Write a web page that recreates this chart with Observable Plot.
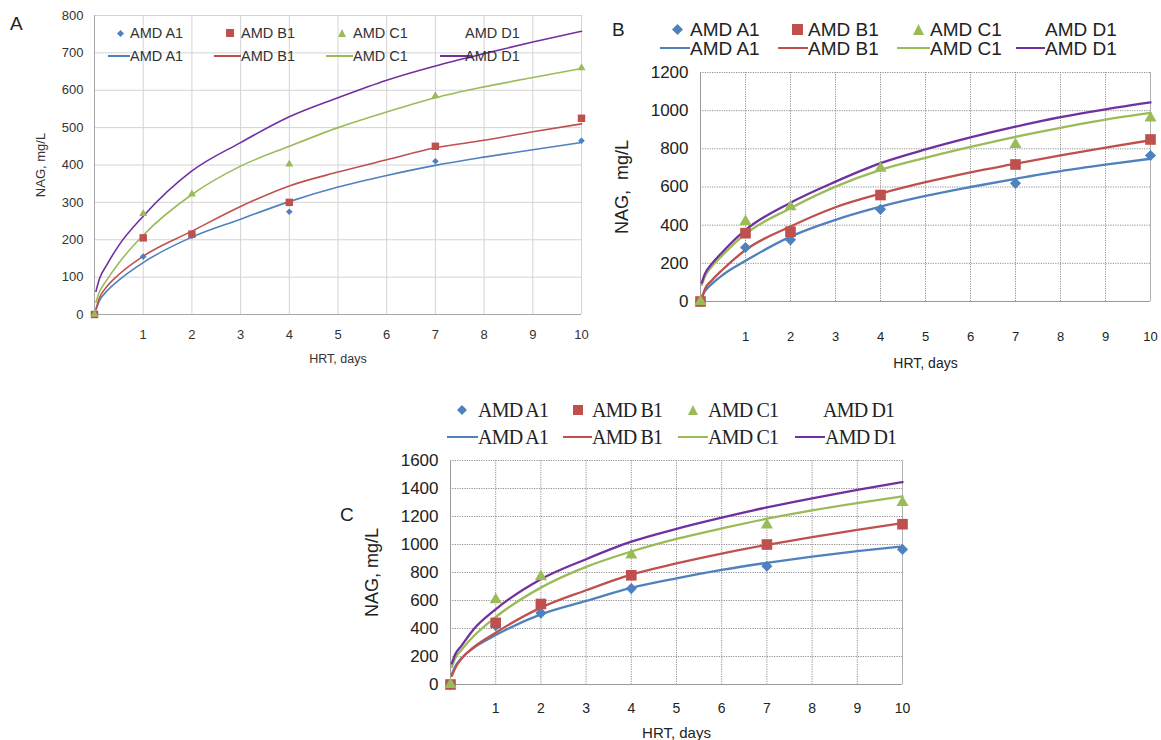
<!DOCTYPE html>
<html><head><meta charset="utf-8">
<script src="https://cdn.jsdelivr.net/npm/d3@7"></script>
<script src="https://cdn.jsdelivr.net/npm/@observablehq/plot@0.6"></script>
<style>
body{margin:0;background:#fff;}
#root{position:relative;width:1161px;height:740px;overflow:hidden;background:#fff;font-family:"Liberation Sans",Arial,sans-serif;}
.abs{position:absolute;white-space:nowrap;line-height:1;}
.panel{position:absolute;}
</style></head><body><div id="root"></div>
<script>
// ---------- data ----------
const seriesNames = ["AMD A1", "AMD B1", "AMD C1", "AMD D1"];
const seriesColors = ["#4F81BD", "#C0504D", "#9BBB59", "#7030A0"];
const hrtObs = [0, 1, 2, 4, 7, 10];
const hrtFit = [0.03, 0.1, 0.25, 0.5, 1, 2, 3, 4, 5, 6, 7, 8, 9, 10];
const xTickValues = [1, 2, 3, 4, 5, 6, 7, 8, 9, 10];

// Panel A
const aYTicks = [0, 100, 200, 300, 400, 500, 600, 700, 800];
const aObsA1 = [0, 155, 210, 275, 410, 465];
const aObsB1 = [0, 205, 215, 300, 450, 525];
const aObsC1 = [0, 270, 322, 402, 585, 660];
const aFitA1 = [12, 36, 62, 92, 139, 207, 255, 302, 341, 372, 399, 421, 441, 460];
const aFitB1 = [15, 44, 74, 107, 156, 223, 289, 344, 381, 414, 446, 466, 489, 510];
const aFitC1 = [33, 60, 92, 138, 212, 321, 397, 450, 500, 542, 580, 609, 634, 658];
const aFitD1 = [62, 95, 132, 185, 263, 384, 460, 529, 580, 627, 665, 698, 729, 758];

// Panel B
const bYTicks = [0, 200, 400, 600, 800, 1000, 1200];
const bObsA1 = [0, 283, 323, 483, 619, 765];
const bObsB1 = [0, 358, 366, 558, 718, 849];
const bObsC1 = [0, 419, 497, 698, 823, 962];
const bFitA1 = [26, 55, 92, 140, 213, 340, 428, 497, 553, 600, 643, 683, 717, 748];
const bFitB1 = [17, 66, 110, 169, 270, 393, 494, 565, 625, 677, 722, 766, 806, 845];
const bFitC1 = [87, 132, 183, 245, 354, 489, 602, 690, 753, 810, 863, 910, 953, 988];
const bFitD1 = [99, 146, 197, 262, 375, 518, 628, 725, 797, 860, 916, 966, 1007, 1043];

// Panel C
const cYTicks = [0, 200, 400, 600, 800, 1000, 1200, 1400, 1600];
const cObsA1 = [0, 420, 510, 685, 845, 965];
const cObsB1 = [0, 440, 575, 780, 1000, 1145];
const cObsC1 = [0, 605, 770, 925, 1140, 1300];
const cFitA1 = [74, 125, 190, 259, 353, 501, 597, 690, 758, 818, 869, 914, 953, 987];
const cFitB1 = [62, 115, 187, 263, 370, 549, 673, 785, 865, 935, 997, 1053, 1105, 1153];
const cFitC1 = [125, 183, 250, 341, 482, 692, 840, 950, 1040, 1115, 1184, 1244, 1296, 1343];
const cFitD1 = [150, 212, 280, 390, 537, 752, 895, 1020, 1112, 1192, 1265, 1330, 1390, 1446];

// ---------- helpers ----------
const rows = (xs, ys) => xs.map((x, i) => ({x, y: ys[i]}));
const root = document.getElementById("root");

function makePanel(cfg) {
  const obs = [cfg.obsA1, cfg.obsB1, cfg.obsC1];
  const fits = [cfg.fitA1, cfg.fitB1, cfg.fitC1, cfg.fitD1];
  const syms = ["diamond2", "square", "triangle"];
  const grid = {stroke: cfg.gridColor, strokeOpacity: 1, strokeWidth: 1, strokeDasharray: cfg.gridDash};
  const marks = [
    Plot.gridX(xTickValues, grid),
    Plot.gridY(cfg.yTicks.filter(d => d > 0), grid),
    Plot.ruleX([0], {stroke: cfg.axisColor, strokeWidth: 1}),
    Plot.ruleY([0], {stroke: cfg.axisColor, strokeWidth: 1}),
  ];
  if (cfg.rightBorder) marks.push(Plot.ruleX([10], {stroke: cfg.rightBorder, strokeWidth: 1}));
  marks.push(
    Plot.axisX(xTickValues, {tickSize: 0, tickPadding: cfg.xPad, fontSize: cfg.xFont, label: null, fill: cfg.textColor, tickFormat: d => String(d)}),
    Plot.axisY(cfg.yTicks, {tickSize: 0, tickPadding: cfg.yPad, fontSize: cfg.yFont, label: null, fill: cfg.textColor, tickFormat: d => String(d)})
  );
  fits.forEach((f, i) => marks.push(
    Plot.line(rows(hrtFit, f), {x: "x", y: "y", stroke: seriesColors[i], strokeWidth: cfg.lineWidth, curve: "monotone-x"})
  ));
  obs.forEach((o, i) => marks.push(
    Plot.dot(rows(hrtObs, o), {x: "x", y: "y", symbol: syms[i], fill: seriesColors[i], stroke: "none", r: cfg.r[i]})
  ));
  marks.push(
    Plot.text(["HRT, days"], {text: d => d, frameAnchor: "bottom", lineAnchor: "middle", textAnchor: "middle", dy: cfg.xTitleDy, fontSize: cfg.xTitleFont, fill: cfg.textColor}),
    Plot.text([cfg.yTitle], {text: d => d, frameAnchor: "left", lineAnchor: "middle", textAnchor: "middle", rotate: -90, dx: cfg.yTitleDx, fontSize: cfg.yTitleFont, fill: cfg.textColor})
  );
  const svg = Plot.plot({
    width: cfg.width, height: cfg.height,
    marginLeft: cfg.ml, marginRight: cfg.mr, marginTop: cfg.mt, marginBottom: cfg.mb,
    x: {domain: [0, 10]},
    y: {domain: [0, cfg.yTicks[cfg.yTicks.length - 1]]},
    style: {fontFamily: '"Liberation Sans", Arial, sans-serif', background: "transparent", overflow: "visible", color: cfg.textColor},
    marks
  });
  const wrap = document.createElement("div");
  wrap.className = "panel";
  wrap.style.left = cfg.left + "px";
  wrap.style.top = cfg.top + "px";
  wrap.appendChild(svg);
  root.appendChild(wrap);
}

function glyph(type, color, size) {
  const s = size, h = s / 2;
  let shape = "";
  if (type === "diamond") shape = `<path d="M${h},0L${s},${h}L${h},${s}L0,${h}Z" fill="${color}"/>`;
  if (type === "square") shape = `<rect x="0" y="0" width="${s}" height="${s}" fill="${color}"/>`;
  if (type === "triangle") shape = `<path d="M${h},0L${s},${s}L0,${s}Z" fill="${color}"/>`;
  return `<svg width="${s}" height="${s}" style="display:block">${shape}</svg>`;
}

function legend(cfg) {
  const add = (html, x, y, extra) => {
    const el = document.createElement("div");
    el.className = "abs";
    el.innerHTML = html;
    el.style.left = x + "px";
    el.style.top = y + "px";
    Object.assign(el.style, extra || {});
    root.appendChild(el);
    return el;
  };
  const types = ["diamond", "square", "triangle", null];
  seriesNames.forEach((name, i) => {
    if (types[i]) add(glyph(types[i], seriesColors[i], cfg.glyph[i]), cfg.mx[i] - cfg.glyph[i] / 2, cfg.y1 - cfg.glyph[i] / 2);
    add(name, cfg.tx[i], cfg.y1 - cfg.font * 0.5, {fontSize: cfg.font + "px", fontFamily: cfg.family, color: cfg.color, letterSpacing: cfg.ls || "normal"});
    const [x0, x1] = cfg.lx[i];
    add("", x0, cfg.y2 - cfg.lw / 2, {width: (x1 - x0) + "px", height: cfg.lw + "px", background: seriesColors[i]});
    add(name, cfg.tx2[i], cfg.y2 - cfg.font * 0.5, {fontSize: cfg.font + "px", fontFamily: cfg.family, color: cfg.color, letterSpacing: cfg.ls || "normal"});
  });
}

function letter(t, x, y) {
  const el = document.createElement("div");
  el.className = "abs";
  el.textContent = t;
  el.style.left = x + "px"; el.style.top = y + "px";
  el.style.fontSize = "19px"; el.style.color = "#222";
  root.appendChild(el);
}

// ---------- Panel A ----------
makePanel({
  left: 0, top: 0, width: 600, height: 372, ml: 94, mr: 19, mt: 15, mb: 58,
  yTicks: aYTicks, obsA1: aObsA1, obsB1: aObsB1, obsC1: aObsC1,
  fitA1: aFitA1, fitB1: aFitB1, fitC1: aFitC1, fitD1: aFitD1,
  gridColor: "#d4d4d4", gridDash: null, axisColor: "#a6a6a6", rightBorder: null,
  xPad: 15, xFont: 13, yPad: 11, yFont: 13, textColor: "#333",
  lineWidth: 1.6, r: [3, 4.2, 3],
  xTitleDy: 44, xTitleFont: 12.5, yTitle: "NAG, mg/L", yTitleDx: -54, yTitleFont: 13
});
legend({
  font: 14.5, family: '"Liberation Sans", Arial, sans-serif', color: "#333", y1: 33, y2: 56, lw: 2,
  glyph: [7, 8, 8], mx: [120, 230, 342], tx: [130, 241, 353, 465], lx: [[108, 130], [214, 241], [326, 353], [440, 472]], tx2: [130, 241, 353, 465]
});
letter("A", 10, 14);

// ---------- Panel B ----------
makePanel({
  left: 600, top: 0, width: 561, height: 380, ml: 100, mr: 11, mt: 72, mb: 79,
  yTicks: bYTicks, obsA1: bObsA1, obsB1: bObsB1, obsC1: bObsC1,
  fitA1: bFitA1, fitB1: bFitB1, fitC1: bFitC1, fitD1: bFitD1,
  gridColor: "#8f8f8f", gridDash: "1.2,1.2", axisColor: "#9a9a9a", rightBorder: "#b0b0b0",
  xPad: 30, xFont: 13, yPad: 12, yFont: 17, textColor: "#222",
  lineWidth: 2.3, r: [5, 6, 4.5],
  xTitleDy: 62, xTitleFont: 14, yTitle: "NAG,  mg/L", yTitleDx: -78, yTitleFont: 18
});
legend({
  font: 19, family: '"Liberation Sans", Arial, sans-serif', color: "#222", y1: 29, y2: 48, lw: 2.5,
  glyph: [11, 11, 11], mx: [677, 797, 918], tx: [690, 808, 930, 1045], lx: [[660, 690], [778, 808], [897, 930], [1016, 1045]], tx2: [690, 808, 930, 1045]
});
letter("B", 612, 20);

// ---------- Panel C ----------
makePanel({
  left: 330, top: 380, width: 600, height: 360, ml: 120, mr: 28, mt: 80, mb: 56,
  yTicks: cYTicks, obsA1: cObsA1, obsB1: cObsB1, obsC1: cObsC1,
  fitA1: cFitA1, fitB1: cFitB1, fitC1: cFitC1, fitD1: cFitD1,
  gridColor: "#8f8f8f", gridDash: "1.2,1.2", axisColor: "#9a9a9a", rightBorder: "#b0b0b0",
  xPad: 19, xFont: 14, yPad: 12, yFont: 17, textColor: "#222",
  lineWidth: 2.3, r: [5, 6, 4.5],
  xTitleDy: 49, xTitleFont: 15, yTitle: "NAG, mg/L", yTitleDx: -78, yTitleFont: 18
});
legend({
  font: 20, family: '"Liberation Serif", "Times New Roman", serif', color: "#222", y1: 410, y2: 437, lw: 2.5, ls: "-0.8px",
  glyph: [10, 10, 10], mx: [462, 578, 693], tx: [478, 592, 708, 823], lx: [[447, 478], [563, 592], [678, 708], [795, 825]], tx2: [478, 592, 708, 825]
});
letter("C", 340, 505);
</script>
</body></html>
